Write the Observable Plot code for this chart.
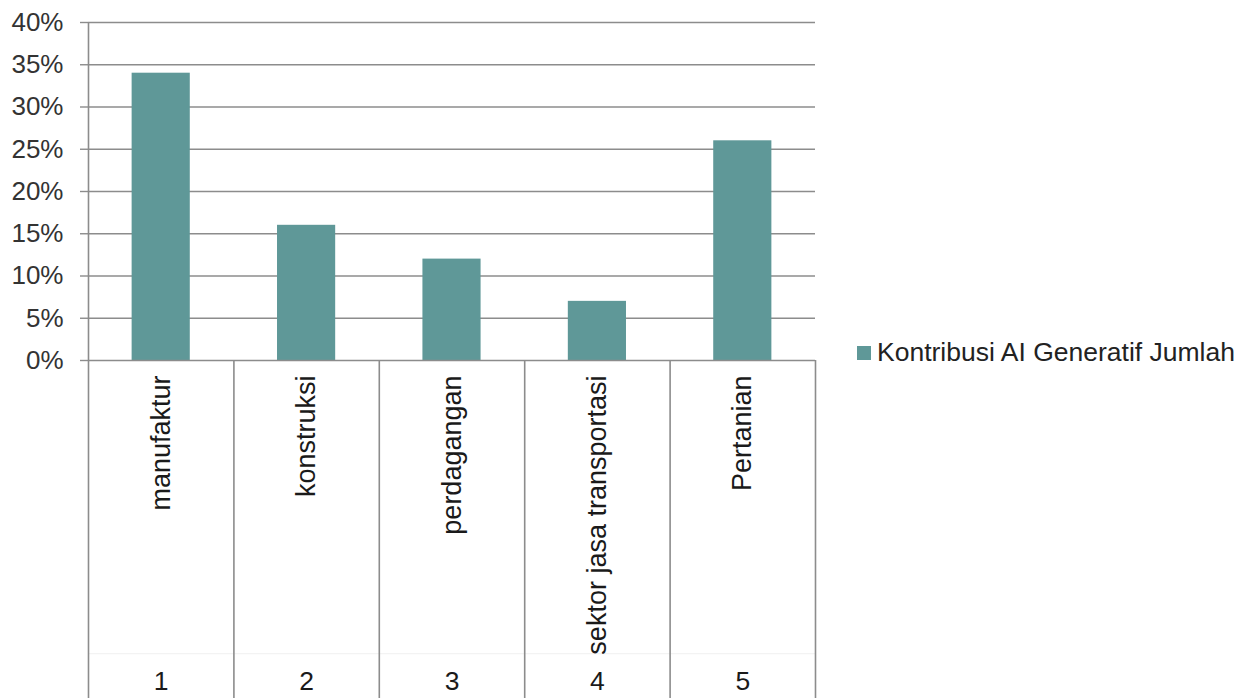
<!DOCTYPE html>
<html>
<head>
<meta charset="utf-8">
<script src="https://cdn.jsdelivr.net/npm/d3@7"></script>
<script src="https://cdn.jsdelivr.net/npm/@observablehq/plot@0.6"></script>
<style>
  html, body { margin: 0; padding: 0; background: #fff; }
  #wrap { position: relative; width: 1237px; height: 698px; overflow: hidden; font-family: "Liberation Sans", Arial, sans-serif; }
  #wrap svg { position: absolute; left: 0; top: 0; }
  #legend { position: absolute; left: 857px; top: 337px; display: flex; align-items: center; font-size: 26.5px; color: #222; white-space: nowrap; }
  #legend .sw { width: 14px; height: 14px; background: #5f9898; margin-right: 6px; }
</style>
</head>
<body>
<div id="wrap"><div id="legend"><span class="sw"></span><span id="legendText"></span></div></div>
<script>
const categories = ["manufaktur", "konstruksi", "perdagangan", "sektor jasa transportasi", "Pertanian"];
const numbers = ["1", "2", "3", "4", "5"];
const values = [34, 16, 12, 7, 26];
const yTicks = [0, 5, 10, 15, 20, 25, 30, 35, 40];
const seriesName = "Kontribusi AI Generatif Jumlah";

document.getElementById("legendText").textContent = seriesName;

const data = categories.map((c, i) => ({cat: c, num: numbers[i], value: values[i]}));
const first = [data[0]];
const rest = data.slice(1);
const last = [data[data.length - 1]];

const grey = "#8c8c8c";
const step = (815 - 88) / categories.length;
const panelBottom = -40;   // bottom of the category-label panel, in y units
const levelDivider = -34.7; // faint divider between the two label levels

const chart = Plot.plot({
  width: 1237,
  height: 698,
  marginLeft: 88,
  marginRight: 422,
  marginTop: 22,
  marginBottom: 338,
  style: {fontFamily: "'Liberation Sans', Arial, sans-serif", background: "transparent", overflow: "visible"},
  x: {domain: categories, paddingInner: 0.6, paddingOuter: 0.3, round: false, axis: null},
  y: {domain: [0, 40], axis: null},
  marks: [
    Plot.ruleY(yTicks.filter(d => d > 0), {stroke: grey, strokeWidth: 1.4}),
    Plot.axisY({ticks: yTicks, tickFormat: d => d + "%", tickSize: 8, tickPadding: 17, fontSize: 26,
      stroke: grey, strokeWidth: 1.4, fill: "#333", label: null}),
    Plot.ruleY([levelDivider], {stroke: "#f0f0f0", strokeWidth: 1}),
    Plot.barY(data, {x: "cat", y: "value", fill: "#5f9898"}),
    Plot.ruleY([0], {stroke: grey, strokeWidth: 1.6}),
    // left axis line through the label panel
    Plot.ruleX(first, {x: "cat", dx: -step / 2, y1: () => 40, y2: () => panelBottom, stroke: grey, strokeWidth: 1.6}),
    // category separators
    Plot.ruleX(rest, {x: "cat", dx: -step / 2, y1: () => 0, y2: () => panelBottom, stroke: grey, strokeWidth: 1.6}),
    Plot.ruleX(last, {x: "cat", dx: step / 2, y1: () => 0, y2: () => panelBottom, stroke: grey, strokeWidth: 1.6}),
    // category labels
    Plot.text(data, {x: "cat", y: () => 0, text: "cat", rotate: -90, textAnchor: "end", dy: 15, fontSize: 27, fill: "#1a1a1a"}),
    Plot.text(data, {x: "cat", y: () => 0, text: "num", dy: 321, fontSize: 26.5, fill: "#1a1a1a"})
  ]
});

document.getElementById("wrap").prepend(chart);
</script>
</body>
</html>
